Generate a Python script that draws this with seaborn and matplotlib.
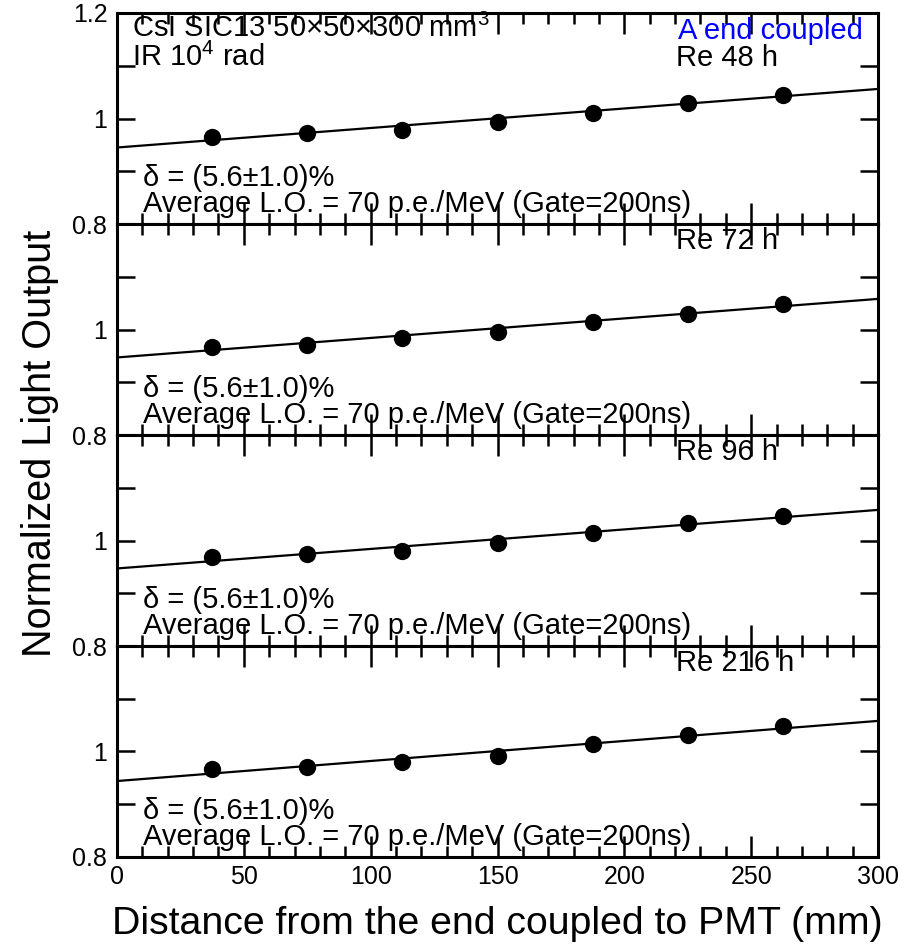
import matplotlib
matplotlib.use("Agg")
import matplotlib.pyplot as plt
import matplotlib.ticker as mticker
import seaborn as sns
import numpy as np
import pandas as pd

sns.set_theme(style="white")
plt.rcParams['font.family'] = ['Liberation Sans', 'DejaVu Sans']
plt.rcParams['mathtext.fontset'] = 'custom'
plt.rcParams['mathtext.rm'] = 'Liberation Sans'
for k in ['text.color', 'axes.labelcolor', 'xtick.color', 'ytick.color']:
    plt.rcParams[k] = 'black'

# ---- data ----
positions = [37.5, 75, 112.5, 150, 187.5, 225, 262.5]
panel_labels = ["Re 48 h", "Re 72 h", "Re 96 h", "Re 216 h"]
lo_re48 = [0.964, 0.972, 0.979, 0.994, 1.011, 1.030, 1.045]
lo_re72 = [0.966, 0.970, 0.983, 0.996, 1.015, 1.030, 1.049]
lo_re96 = [0.968, 0.974, 0.981, 0.996, 1.015, 1.034, 1.047]
lo_re216 = [0.966, 0.970, 0.981, 0.991, 1.015, 1.032, 1.049]
fit_intercepts = [0.945, 0.947, 0.947, 0.944]
fit_slopes = [0.00037, 0.00037, 0.00037, 0.00038]
fit_range = [0, 300]
delta_text = "δ = (5.6±1.0)%"
avg_text = "Average L.O. = 70 p.e./MeV (Gate=200ns)"
xticks = [0, 50, 100, 150, 200, 250, 300]
# ---------------

series = [lo_re48, lo_re72, lo_re96, lo_re216]

fig, axes = plt.subplots(4, 1, figsize=(9.13, 9.44), dpi=100, sharex=True)
fig.subplots_adjust(left=117/913, right=878/913, top=1-13/944, bottom=1-857/944, hspace=0)

FS = 21

for i, ax in enumerate(axes):
    df = pd.DataFrame({"x": positions, "y": series[i]})
    fx = np.array(fit_range, dtype=float)
    fdf = pd.DataFrame({"x": fx, "y": fit_intercepts[i] + fit_slopes[i] * fx})
    sns.lineplot(data=fdf, x="x", y="y", ax=ax, color="black", lw=1.6)
    sns.scatterplot(data=df, x="x", y="y", ax=ax, color="black", s=155,
                    edgecolor="black", linewidth=0, zorder=3)
    ax.set_xlim(0, 300)
    ax.set_ylim(0.8, 1.2)
    ax.set_xlabel("")
    ax.set_ylabel("")
    ax.xaxis.set_major_locator(mticker.FixedLocator(xticks))
    ax.xaxis.set_minor_locator(mticker.MultipleLocator(10))
    ax.yaxis.set_major_locator(mticker.MultipleLocator(0.1))
    if i == 0:
        labs = {0.8: "0.8", 1.0: "1", 1.2: "1.2"}
    else:
        labs = {0.8: "0.8", 1.0: "1"}
    ax.yaxis.set_major_formatter(mticker.FuncFormatter(
        lambda v, p, labs=labs: next((s for k, s in labs.items() if abs(v - k) < 1e-6), "")))
    ax.tick_params(axis="both", which="both", direction="in", top=True, right=True,
                   bottom=True, left=True, color="black", width=1.8)
    ax.tick_params(axis="x", which="major", length=15)
    ax.tick_params(axis="x", which="minor", length=8)
    ax.tick_params(axis="y", which="major", length=13, pad=7, labelsize=18)
    for sp in ax.spines.values():
        sp.set_color("black")
        sp.set_linewidth(2.2)
    ax.text(0.034, 0.18, delta_text, transform=ax.transAxes, fontsize=FS,
            ha="left", va="baseline")
    ax.text(0.034, 0.057, avg_text, transform=ax.transAxes, fontsize=FS,
            ha="left", va="baseline")
    if i == 0:
        ax.text(0.735, 0.75, panel_labels[i], transform=ax.transAxes, fontsize=FS,
                ha="left", va="baseline")
        ax.text(0.98, 0.877, "A end coupled", transform=ax.transAxes, fontsize=FS,
                ha="right", va="baseline", color="blue")
        ax.text(0.0197, 0.886, r"CsI SIC13 50$\times$50$\times$300 mm$^3$", transform=ax.transAxes,
                fontsize=FS, ha="left", va="baseline")
        ax.text(0.0197, 0.75, r"IR 10$^4$ rad", transform=ax.transAxes,
                fontsize=FS, ha="left", va="baseline")
    else:
        ax.text(0.735, 0.88, panel_labels[i], transform=ax.transAxes, fontsize=FS,
                ha="left", va="baseline")

axes[-1].tick_params(axis="x", which="major", labelsize=18, pad=6)
axes[-1].set_xlabel("Distance from the end coupled to PMT (mm)", fontsize=28.3, labelpad=12)
fig.text(40/913, 1 - 443/944, "Normalized Light Output", rotation=90, fontsize=28.5,
         ha="center", va="center")

fig.savefig("out.png", dpi=100, facecolor="white")
